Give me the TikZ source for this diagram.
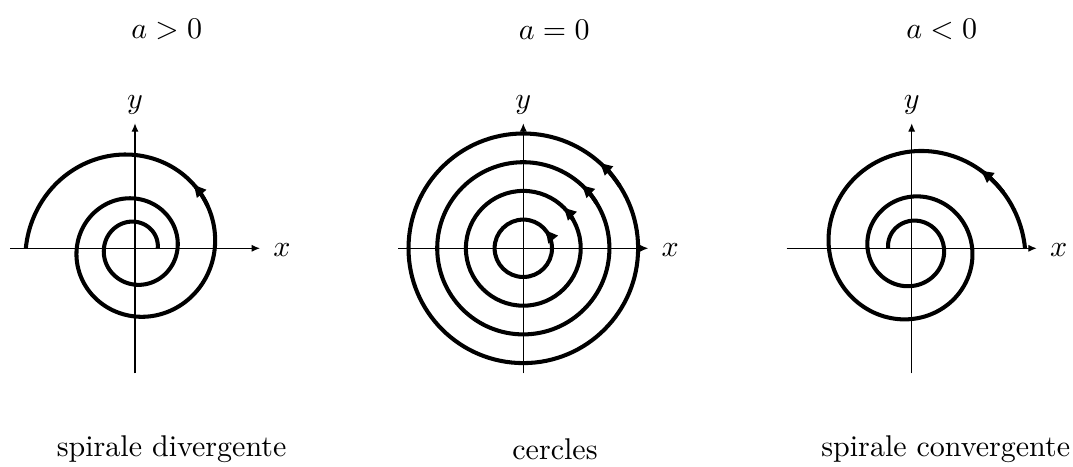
\documentclass[tikz,border=0pt]{standalone}
\usetikzlibrary{arrows.meta}
\begin{document}
\begin{tikzpicture}[x=0.33333pt,y=0.33333pt,
  axis/.style={line width=0.4pt,-{Latex[length=2.8pt,width=2.4pt]}},
  traj/.style={line width=1.35pt},
  trajarrow/.style={line width=1.35pt,-{Triangle[length=4pt,width=3.9pt]}},
  lab/.style={inner sep=0pt}]
\useasboundingbox (0,0) rectangle (1073,466);

% ---------- left: a > 0 ----------
\begin{scope}[shift={(135,217.7)}]
  \coordinate (L-w) at (-125,0); \coordinate (L-e) at (125,0);
  \coordinate (L-s) at (0,-125); \coordinate (L-n) at (0,125);
  \draw[axis] (L-w) -- (L-e);
  \draw[axis] (L-s) -- (L-n);
  \node[lab] (L-x) at (147,-2) {$x$};
  \node[lab] (L-y) at (0,143) {$y$};
  \draw[traj] plot[domain=0:15.70796,samples=400]
    ({22.7*exp(0.1*\x)*cos(\x r)},{22.7*exp(0.1*\x)*sin(\x r)});
  \draw[trajarrow] plot[domain=13.1:13.39,samples=10]
    ({22.7*exp(0.1*\x)*cos(\x r)},{22.7*exp(0.1*\x)*sin(\x r)});
  \node[lab] (L-top) at (31.7,218.8) {$a>0$};
  \node[lab] (L-bot) at (36.6,-200.7) {spirale divergente};
\end{scope}

% ---------- middle: a = 0 ----------
\begin{scope}[shift={(523.3,217.7)}]
  \coordinate (M-w) at (-125,0); \coordinate (M-e) at (125,0);
  \coordinate (M-s) at (0,-125); \coordinate (M-n) at (0,125);
  \draw[axis] (M-w) -- (M-e);
  \draw[axis] (M-s) -- (M-n);
  \node[lab] (M-x) at (147,-2) {$x$};
  \node[lab] (M-y) at (0,143) {$y$};
  \foreach \r/\a in {28.7/39,57.4/45,86.1/47,114.8/48}{
    \draw[traj] (0,0) circle[radius=\r];
    \draw[trajarrow] (\a-15:\r) arc[start angle=\a-15,end angle=\a,radius=\r];
  }
  \node[lab] (M-top) at (30.9,218.8) {$a=0$};
  \node[lab] (M-bot) at (31.7,-200.7) {cercles};
\end{scope}

% ---------- right: a < 0 ----------
\begin{scope}[shift={(911.7,217.7)}]
  \coordinate (R-w) at (-125,0); \coordinate (R-e) at (125,0);
  \coordinate (R-s) at (0,-125); \coordinate (R-n) at (0,125);
  \draw[axis] (R-w) -- (R-e);
  \draw[axis] (R-s) -- (R-n);
  \node[lab] (R-x) at (147,-2) {$x$};
  \node[lab] (R-y) at (0,143) {$y$};
  \draw[traj] plot[domain=0:15.70796,samples=400]
    ({113.3*exp(-0.1*\x)*cos(\x r)},{113.3*exp(-0.1*\x)*sin(\x r)});
  \draw[trajarrow] plot[domain=0.55:0.84,samples=10]
    ({113.3*exp(-0.1*\x)*cos(\x r)},{113.3*exp(-0.1*\x)*sin(\x r)});
  \node[lab] (R-top) at (30,218.8) {$a<0$};
  \node[lab] (R-bot) at (34,-200.7) {spirale convergente};
\end{scope}
\end{tikzpicture}
\end{document}
